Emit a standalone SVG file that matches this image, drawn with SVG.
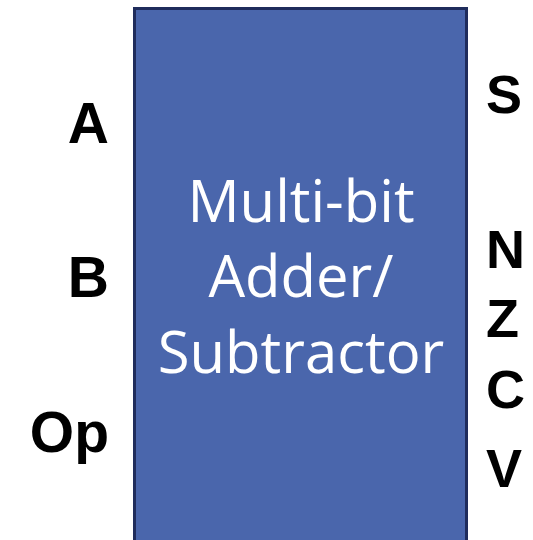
<svg xmlns="http://www.w3.org/2000/svg" width="533" height="540" viewBox="0 0 533 540">
<style>
.port{font-family:"Liberation Sans",Arial,sans-serif;font-weight:bold;fill:#000}
.l{font-size:57px;text-anchor:end}
.r{font-size:54px;text-anchor:start}
.title{font-family:"Open Sans","Noto Sans",sans-serif;font-size:58px;fill:#fff;text-anchor:middle}
</style>
<rect width="533" height="540" fill="#fff"/>
<g id="block">
<rect x="134.5" y="8.5" width="332" height="545" fill="#4a66ac" stroke="#1f2c5c" stroke-width="3"/>
<text class="title" x="301" y="222">Multi-bit</text>
<text class="title" x="301" y="297">Adder/</text>
<text class="title" x="301" y="373">Subtractor</text>
</g>
<g id="inputs">
<text class="port l" x="109" y="143">A</text>
<text class="port l" x="109" y="297">B</text>
<text class="port l" x="109" y="452">Op</text>
</g>
<g id="outputs">
<text class="port r" x="486" y="113">S</text>
<text class="port r" x="486" y="268">N</text>
<text class="port r" x="486" y="337">Z</text>
<text class="port r" x="486" y="408">C</text>
<text class="port r" x="486" y="487">V</text>
</g>
<g id="connectors"></g>
</svg>
